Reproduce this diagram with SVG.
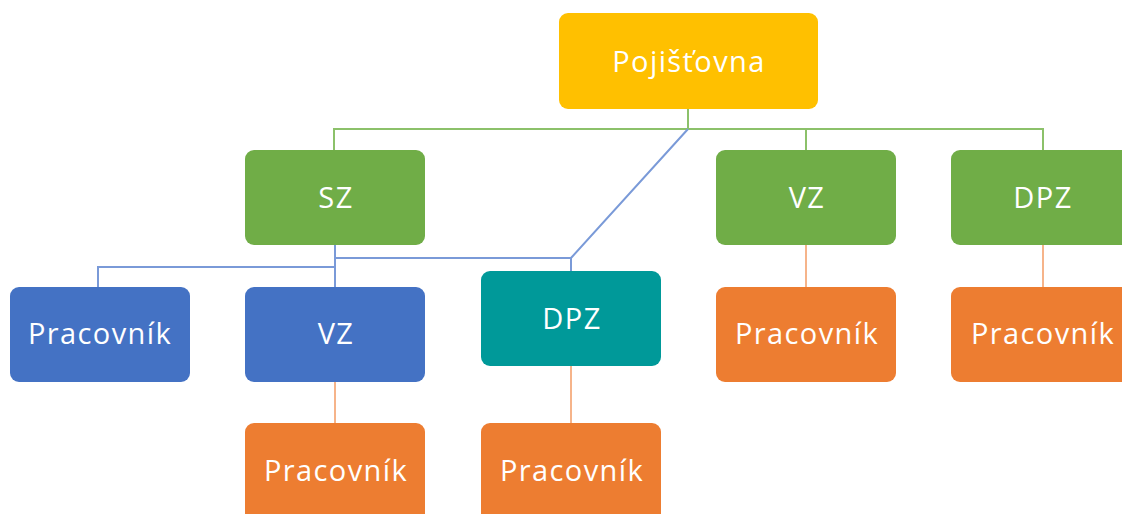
<svg xmlns="http://www.w3.org/2000/svg" width="1122" height="514" viewBox="0 0 1122 514">
<style>
.n text{font-family:"Open Sans","Noto Sans",sans-serif;font-size:29px;letter-spacing:1.4px;fill:#fff;text-anchor:middle;dominant-baseline:central}
.y{fill:#FFC000}.g{fill:#70AD47}.b{fill:#4472C4}.t{fill:#009999}.o{fill:#ED7D31}
.cg{stroke:#8CC16A;stroke-width:2;fill:none}
.cb{stroke:#7A9AD8;stroke-width:2;fill:none}
.co{stroke:#F6B48A;stroke-width:2;fill:none}
</style>
<rect width="1122" height="514" fill="#fff"/>
<g id="connectors">
<path class="cg" d="M688 109V129M334 150V129H1043V150M806 129V150"/>
<path class="cb" d="M688 129L571 258V271M335 245V287M335 258H571M98 287V267H335"/>
<path class="co" d="M806 245V287M1043 245V287M335 382V423M571 366V423"/>
</g>
<g id="pojistovna" class="n"><rect class="y" x="559" y="13" width="259" height="96" rx="9"/><text x="689" y="60">Pojišťovna</text></g>
<g id="sz" class="n"><rect class="g" x="245" y="150" width="180" height="95" rx="9"/><text x="336" y="196">SZ</text></g>
<g id="vz1" class="n"><rect class="g" x="716" y="150" width="180" height="95" rx="9"/><text x="807" y="196">VZ</text></g>
<g id="dpz1" class="n"><rect class="g" x="951" y="150" width="185" height="95" rx="9"/><text x="1043" y="196">DPZ</text></g>
<g id="prac1" class="n"><rect class="b" x="10" y="287" width="180" height="95" rx="9"/><text x="100" y="332">Pracovník</text></g>
<g id="vz2" class="n"><rect class="b" x="245" y="287" width="180" height="95" rx="9"/><text x="336" y="332">VZ</text></g>
<g id="dpz2" class="n"><rect class="t" x="481" y="271" width="180" height="95" rx="9"/><text x="572" y="317">DPZ</text></g>
<g id="prac2" class="n"><rect class="o" x="716" y="287" width="180" height="95" rx="9"/><text x="807" y="332">Pracovník</text></g>
<g id="prac3" class="n"><rect class="o" x="951" y="287" width="185" height="95" rx="9"/><text x="1043" y="332">Pracovník</text></g>
<g id="prac4" class="n"><rect class="o" x="245" y="423" width="180" height="100" rx="9"/><text x="336" y="469">Pracovník</text></g>
<g id="prac5" class="n"><rect class="o" x="481" y="423" width="180" height="100" rx="9"/><text x="572" y="469">Pracovník</text></g>
</svg>
